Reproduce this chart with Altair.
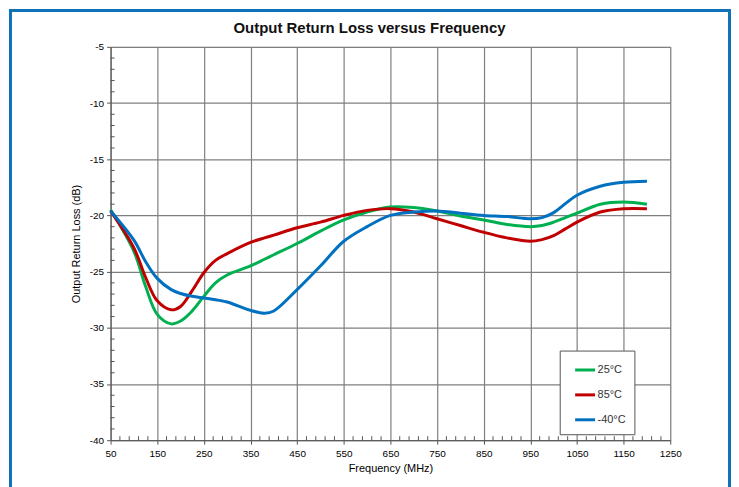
import altair as alt
import pandas as pd

freq = [50, 100, 125, 150, 180, 200, 225, 250, 275, 300, 350, 380, 400, 450, 500, 550, 600, 650,
        700, 750, 800, 850, 900, 950, 975, 1000, 1025, 1050, 1100, 1150, 1200]

t25 = [-19.5, -23.2, -26.3, -28.8, -29.65, -29.4, -28.5, -27.2, -26.0, -25.3, -24.5, -23.9,
       -23.5, -22.5, -21.4, -20.4, -19.7, -19.25, -19.3, -19.6, -20.05, -20.4, -20.8, -21.0,
       -20.9, -20.6, -20.2, -19.8, -19.0, -18.8, -19.0]
t85 = [-19.6, -22.9, -25.5, -27.6, -28.4, -28.1, -26.7, -25.1, -24.0, -23.4, -22.4, -22.0,
       -21.75, -21.1, -20.6, -20.0, -19.55, -19.4, -19.7, -20.3, -20.9, -21.5, -22.0, -22.3,
       -22.15, -21.8, -21.2, -20.6, -19.7, -19.4, -19.4]
tm40 = [-19.6, -22.2, -24.1, -25.6, -26.6, -26.95, -27.2, -27.35, -27.5, -27.7, -28.45, -28.7,
        -28.5, -26.6, -24.5, -22.3, -21.0, -20.0, -19.7, -19.6, -19.8, -20.0, -20.1, -20.3,
        -20.2, -19.75, -18.95, -18.2, -17.4, -17.05, -16.95]

series = ["25°C", "85°C", "-40°C"]
colors = ["#00B050", "#C00000", "#0070C0"]
title_text = ["Output Return Loss versus Frequency"]

x_major = list(range(50, 1251, 100))
y_major = list(range(-40, -4, 5))
x_minor = [v for v in range(50, 1251, 20) if (v - 50) % 100 != 0]
y_minor = [v for v in range(-40, -4) if v % 5 != 0]

rows = []
for name, vals in zip(series, [t25, t85, tm40]):
    for f, v in zip(freq, vals):
        rows.append({"freq": f, "loss": v, "series": name})
df = pd.DataFrame(rows)

W, H = 562, 395
FONT = "Liberation Sans"

xscale = alt.Scale(domain=[50, 1250], nice=False, zero=False)
yscale = alt.Scale(domain=[-40, -5], nice=False, zero=False)

lines = alt.Chart(df).mark_line(strokeWidth=3, interpolate="catmull-rom").encode(
    x=alt.X("freq:Q", scale=xscale,
            axis=alt.Axis(values=x_major, format="d", title="Frequency (MHz)", grid=True,
                          gridColor="#7f7f7f", gridWidth=1.2, tickSize=4,
                          tickColor="#555", domainColor="#555", labelPadding=4,
                          titlePadding=4, labelFlush=False, titleFontWeight="normal")),
    y=alt.Y("loss:Q", scale=yscale,
            axis=alt.Axis(values=y_major, format="d", title="Output Return Loss (dB)",
                          grid=True, gridColor="#7f7f7f", gridWidth=1.2, tickSize=4,
                          tickColor="#555", domainColor="#555", labelPadding=3,
                          titlePadding=8, titleFontWeight="normal",
                          labelExpr="replace(datum.label, '−', '-')")),
    color=alt.Color("series:N",
                    scale=alt.Scale(domain=series, range=colors),
                    legend=alt.Legend(title=None, orient="none", legendX=451, legendY=305,
                                      strokeColor="#555", padding=8, fillColor="white",
                                      symbolType="stroke", symbolSize=400,
                                      symbolStrokeWidth=3, labelFontSize=11,
                                      labelFont=FONT, labelColor="#333",
                                      rowPadding=7, labelOffset=1, symbolOffset=6)),
)

xmin_df = pd.DataFrame({"freq": x_minor})
xminor = alt.Chart(xmin_df).mark_rule(color="#555", strokeWidth=1).encode(
    x=alt.X("freq:Q", scale=xscale), y=alt.value(H), y2=alt.value(H - 4))

ymin_df = pd.DataFrame({"loss": y_minor})
yminor = alt.Chart(ymin_df).mark_rule(color="#555", strokeWidth=1).encode(
    y=alt.Y("loss:Q", scale=yscale), x=alt.value(0), x2=alt.value(4))

frame = alt.Chart(pd.DataFrame({"a": [0]})).mark_rect(
    fill=None, filled=False, stroke="#0F72B8", strokeWidth=3, clip=False).encode(
    x=alt.value(-100.5), x2=alt.value(621.5), y=alt.value(-36.5), y2=alt.value(460))

title = alt.Chart(pd.DataFrame({"t": title_text})).mark_text(
    font=FONT, fontSize=15, fontWeight="bold", color="#111", align="center",
    baseline="middle", clip=False).encode(
    text="t:N", x=alt.value(260), y=alt.value(-19))

chart = alt.layer(frame, lines, xminor, yminor, title).properties(
    width=W, height=H,
    padding={"left": 103, "top": 38, "right": 61, "bottom": 46},
    autosize=alt.AutoSizeParams(type="none"),
).configure_axis(
    labelFont=FONT, titleFont=FONT, labelFontSize=11, titleFontSize=11,
    labelColor="#333", titleColor="#333",
).configure_view(stroke="#7f7f7f", strokeWidth=1.2
).configure(background="white")

chart.save("out.html", embed_options={"renderer": "svg", "actions": False})
